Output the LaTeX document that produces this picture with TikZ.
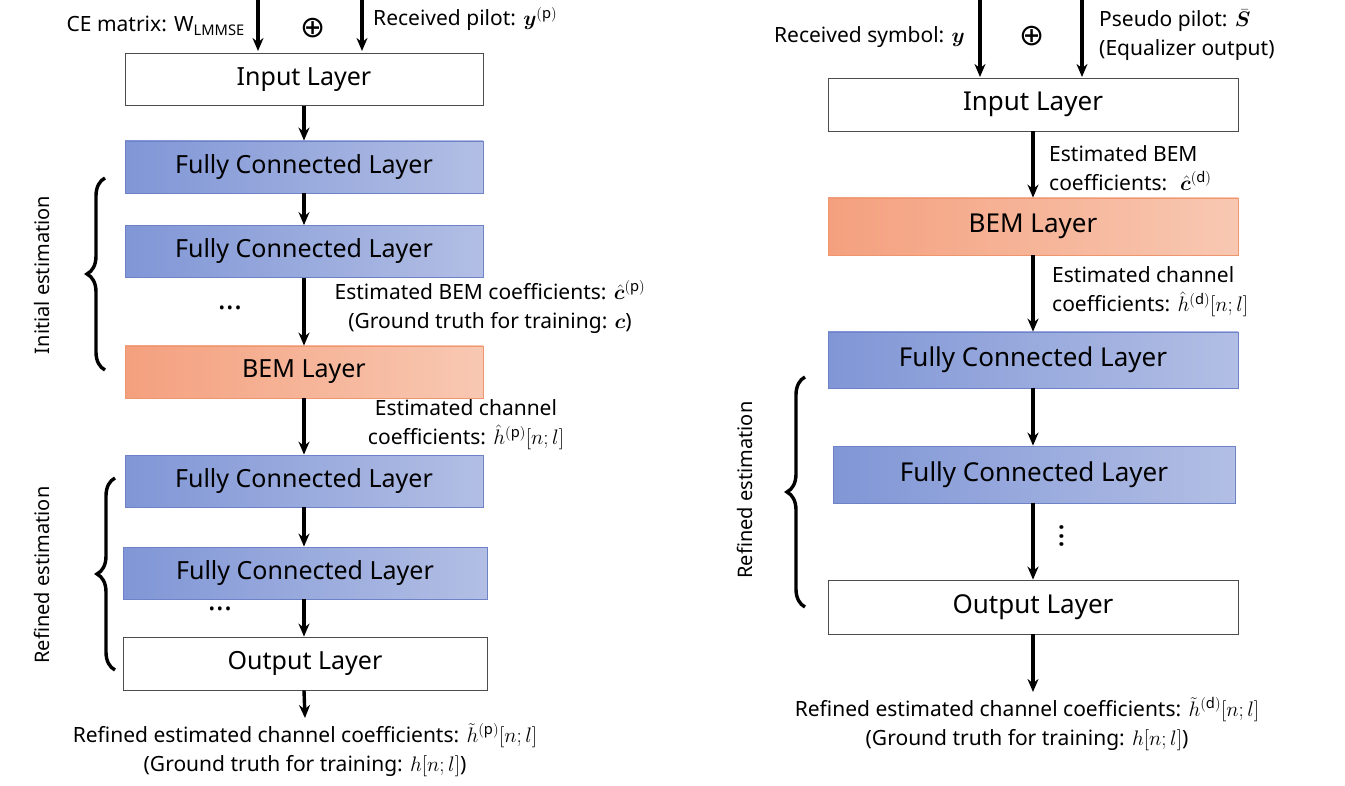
\documentclass[tikz,border=0pt]{standalone}
\usepackage{fix-cm}
\usepackage{amsmath,bm}
\usepackage{fontspec}
\setmainfont{Noto Sans}
\newfontfamily\djv{DejaVu Sans}
\usetikzlibrary{arrows.meta,decorations.pathreplacing}
\begin{document}
\begin{tikzpicture}[x=1pt,y=-1pt,
  lay/.style={draw=black!70,line width=0.8pt,minimum height=#1,inner sep=0,font=\fontsize{25}{30}\selectfont},
  lay/.default=52pt,
  white/.style={fill=white},
  fcl/.style={draw={rgb,255:red,110;green,130;blue,200},left color={rgb,255:red,128;green,150;blue,214},right color={rgb,255:red,178;green,190;blue,228}},
  beml/.style={draw={rgb,255:red,240;green,150;blue,110},left color={rgb,255:red,244;green,160;blue,126},right color={rgb,255:red,248;green,200;blue,178}},
  arr/.style={-{Stealth[length=13pt,width=11pt]},line width=3.4pt},
  lbl/.style={font=\fontsize{21}{29}\selectfont,inner sep=1pt},
  brc/.style={decorate,decoration={brace,amplitude=18pt},line width=3.4pt},
  rot/.style={rotate=90,font=\fontsize{20}{24}\selectfont},
  dts/.style={font=\fontsize{30}{30}\selectfont\bfseries,inner sep=0},
  opl/.style={font=\djv\fontsize{30}{30}\selectfont,inner sep=0}]
\useasboundingbox (0,0) rectangle (1345,786);
% ---------- left ----------
\node[lay,white,minimum width=358pt] (in1) at (304,79.5) {Input Layer};
\node[lay,fcl,minimum width=358pt] (f1) at (304,167) {Fully Connected Layer};
\node[lay,fcl,minimum width=358pt] (f2) at (304,251.5) {Fully Connected Layer};
\node[lay,beml,minimum width=358pt] (b1) at (304,372) {BEM Layer};
\node[lay,fcl,minimum width=358pt] (f3) at (304,481) {Fully Connected Layer};
\node[lay,fcl,minimum width=364pt] (f4) at (305,573) {Fully Connected Layer};
\node[lay=53pt,white,minimum width=364pt] (o1) at (305,663.5) {Output Layer};
\node[dts] (d1) at (230,308) {...};
\node[dts] (d2) at (220,609) {...};
\coordinate (t1) at (258,0); \coordinate (t2) at (362,0);
\draw[arr] (t1) -- (258,51);
\draw[arr] (t2) -- (362,51);
\node[opl] (op1) at (313,28) {⊕};
\node[lbl,anchor=east] (ce) at (246,26) {CE matrix: $\mathrm{W}_{\mathrm{LMMSE}}$};
\node[lbl,anchor=west] (rp) at (372,19) {Received pilot: $\bm{y}^{(\mathrm{p})}$};
\draw[arr] (in1) -- (f1);
\draw[arr] (f1) -- (f2);
\draw[arr] (f2) -- (b1);
\draw[arr] (b1) -- (f3);
\draw[arr] (f3.south) -- (f3.south|-f4.north);
\draw[arr] (f4.south-|f3.south) -- (f3.south|-o1.north);
\coordinate (e1) at (305,718);
\draw[arr] (o1.south-|f3.south) -- (e1);
\node[lbl,align=center] (l1) at (490,307) {Estimated BEM coefficients: $\hat{\bm{c}}^{(\mathbf{p})}$\\(Ground truth for training: $\bm{c}$)};
\node[lbl,align=center] (l2) at (466,425) {Estimated channel\\coefficients: $\hat{h}^{(\mathrm{p})}[n;l]$};
\node[lbl,align=center] (l3) at (305,750) {Refined estimated channel coefficients: $\tilde{h}^{(\mathrm{p})}[n;l]$\\(Ground truth for training: $h[n;l]$)};
\coordinate (bA) at (105,370); \coordinate (bB) at (105,178);
\draw[brc] (bA) -- (bB);
\node[rot] (r1) at (42,275) {Initial estimation};
\coordinate (bC) at (115,670); \coordinate (bD) at (115,478);
\draw[brc] (bC) -- (bD);
\node[rot] (r2) at (42,575) {Refined estimation};
% ---------- right ----------
\node[lay=53pt,white,minimum width=410pt,font=\fontsize{26}{30}\selectfont] (in2) at (1033,104.5) {Input Layer};
\node[lay=57pt,beml,minimum width=410pt,font=\fontsize{26}{30}\selectfont] (b2) at (1033,226.5) {BEM Layer};
\node[lay=56pt,fcl,minimum width=410pt,font=\fontsize{26}{30}\selectfont] (f5) at (1033,360) {Fully Connected Layer};
\node[lay=57pt,fcl,minimum width=402pt,font=\fontsize{26}{30}\selectfont] (f6) at (1034,474.5) {Fully Connected Layer};
\node[lay=54pt,white,minimum width=410pt,font=\fontsize{26}{30}\selectfont] (o2) at (1033,607) {Output Layer};
\node[dts,rotate=90] (d3) at (1062,536) {...};
\coordinate (t3) at (980,0); \coordinate (t4) at (1082,0);
\draw[arr] (t3) -- (980,77);
\draw[arr] (t4) -- (1082,77);
\node[opl] (op2) at (1032,36) {⊕};
\node[lbl,anchor=east] (rs) at (966,37) {Received symbol: $\bm{y}$};
\node[lbl,anchor=west,align=left] (pp) at (1098,35) {Pseudo pilot: $\bar{\bm{S}}$\\(Equalizer output)};
\draw[arr] (in2) -- (b2);
\draw[arr] (b2) -- (f5);
\draw[arr] (f5) -- (f5.south|-f6.north);
\draw[arr] (f6.south-|f5.south) -- (o2);
\coordinate (e2) at (1033,692);
\draw[arr] (o2) -- (e2);
\node[lbl,anchor=west,align=left] (l4) at (1048,168) {Estimated BEM\\coefficients: \ $\hat{\bm{c}}^{(\mathbf{d})}$};
\node[lbl,anchor=west,align=left] (l5) at (1051,292) {Estimated channel\\coefficients: $\hat{h}^{(\mathrm{d})}[n;l]$};
\node[lbl,align=center] (l6) at (1027,724) {Refined estimated channel coefficients: $\tilde{h}^{(\mathrm{d})}[n;l]$\\(Ground truth for training: $h[n;l]$)};
\coordinate (bE) at (805,607); \coordinate (bF) at (805,377);
\draw[brc] (bE) -- (bF);
\node[rot] (r3) at (745,490) {Refined estimation};
\end{tikzpicture}
\end{document}
